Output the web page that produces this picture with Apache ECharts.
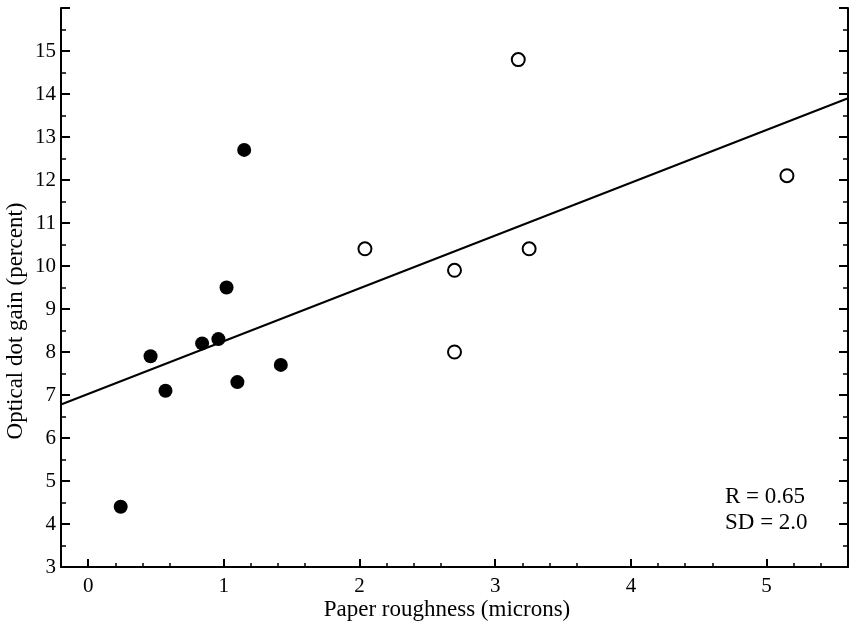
<!DOCTYPE html>
<html><head><meta charset="utf-8">
<script src="https://cdn.jsdelivr.net/npm/echarts@6/dist/echarts.min.js"></script>
<style>html,body{margin:0;padding:0;background:#fff}#c{width:850px;height:634px}</style>
</head><body><div id="c"></div>
<script>
// Filled circles (group 1)
const filledX = [0.24, 0.46, 0.57, 0.84, 0.96, 1.02, 1.10, 1.15, 1.42];
const filledY = [4.4, 7.9, 7.1, 8.2, 8.3, 9.5, 7.3, 12.7, 7.7];
// Open circles (group 2)
const openX = [2.04, 2.70, 2.70, 3.17, 3.25, 5.15];
const openY = [10.4, 9.9, 8.0, 14.8, 10.4, 12.1];
// Regression line end points
const fitX = [-0.2, 5.6];
const fitY = [6.78, 13.9];
const xTicks = [0, 1, 2, 3, 4, 5];
const statLines = ['R = 0.65', 'SD = 2.0'];
const xTitle = 'Paper roughness (microns)';
const yTitle = 'Optical dot gain (percent)';

const font = '"Liberation Serif", "Times New Roman", serif';
const zip = (a, b) => a.map((v, i) => [v, b[i]]);

const chart = echarts.init(document.getElementById('c'));
const yAxisBase = {
  type: 'value', min: 3, max: 16, interval: 1,
  axisLine: {show: true, onZero: false, lineStyle: {color: '#000', width: 2}},
  axisTick: {show: true, inside: true, length: 9, lineStyle: {color: '#000', width: 2}},
  minorTick: {show: true, splitNumber: 2, length: 5, lineStyle: {color: '#000', width: 1.5}},
  splitLine: {show: false}
};
chart.setOption({
  animation: false,
  grid: {left: 61, right: 2, top: 8, bottom: 67, containLabel: false, outerBoundsMode: 'none'},
  xAxis: {
    type: 'value', min: -0.2, max: 5.6, interval: 1,
    axisLine: {show: true, onZero: false, lineStyle: {color: '#000', width: 2}},
    axisTick: {show: true, inside: true, length: 8, lineStyle: {color: '#000', width: 2},
      customValues: xTicks},
    minorTick: {show: true, splitNumber: 5, length: 4, lineStyle: {color: '#000', width: 1.5}},
    splitLine: {show: false},
    axisLabel: {color: '#000', fontFamily: font, fontSize: 21, margin: 9,
      customValues: xTicks, formatter: v => String(v)}
  },
  yAxis: [Object.assign({}, yAxisBase, {
    axisLabel: {color: '#000', fontFamily: font, fontSize: 21, margin: 5,
      formatter: v => (v >= 16 ? '' : String(v))}
  }), Object.assign({}, yAxisBase, {
    position: 'right', axisLabel: {show: false}
  })],
  series: [{
    type: 'line', data: zip(fitX, fitY), symbol: 'none',
    lineStyle: {color: '#000', width: 2}, z: 1
  }, {
    type: 'scatter', data: zip(filledX, filledY), symbol: 'circle', symbolSize: 14,
    itemStyle: {color: '#000', opacity: 1}, z: 3
  }, {
    type: 'scatter', data: zip(openX, openY), symbol: 'circle', symbolSize: 13,
    itemStyle: {color: '#fff', borderColor: '#000', borderWidth: 2, opacity: 1}, z: 3
  }],
  graphic: [{
    type: 'text', x: 725, y: 484,
    style: {text: statLines.join('\n'), font: '23px ' + font, fill: '#000', lineHeight: 26, align: 'left'}
  }, {
    type: 'text', x: 447, y: 610,
    style: {text: xTitle, font: '23px ' + font, fill: '#000', align: 'center', verticalAlign: 'middle'}
  }, {
    type: 'text', x: 16, y: 321, rotation: Math.PI / 2,
    style: {text: yTitle, font: '23px ' + font, fill: '#000', align: 'center', verticalAlign: 'middle'}
  }]
});
</script></body></html>
